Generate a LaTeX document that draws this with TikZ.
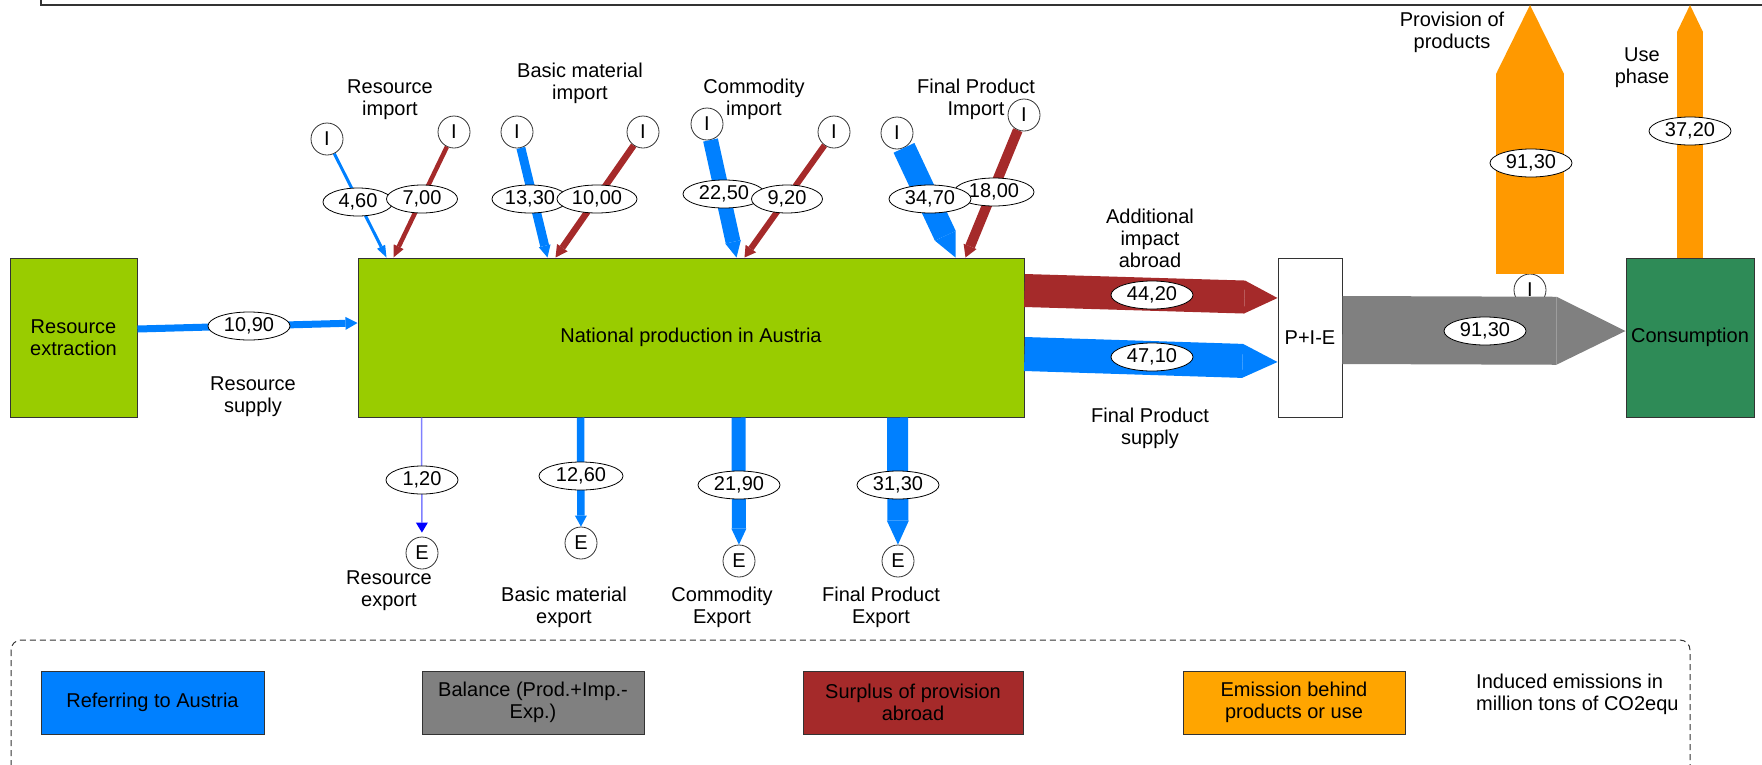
\documentclass[tikz,border=0pt]{standalone}
\usepackage{fontspec}
\setmainfont{Liberation Sans}
\usetikzlibrary{arrows.meta,shapes.geometric}
\definecolor{fgreen}{HTML}{99CC00}
\definecolor{fblue}{HTML}{0080FF}
\definecolor{fred}{HTML}{A52A2A}
\definecolor{fgray}{HTML}{808080}
\definecolor{forange}{HTML}{FF9900}
\definecolor{lorange}{HTML}{FFA500}
\definecolor{fsea}{HTML}{2E8B57}
\definecolor{fviolet}{HTML}{8080FF}
\definecolor{edge}{HTML}{333333}
\tikzset{
  box/.style={draw=edge, line width=1pt, inner sep=0pt, align=center},
  icirc/.style={circle, draw=edge, fill=white, line width=0.8pt, minimum size=32pt, inner sep=0pt},
  val/.style={ellipse, draw=black, fill=white, line width=0.8pt, minimum width=82pt, minimum height=28pt, inner sep=0pt},
  lbl/.style={align=center, inner sep=0pt},
  legbox/.style={box, minimum width=222pt, minimum height=63pt},
}
\begin{document}
\begin{tikzpicture}[x=1pt,y=-1pt,font=\fontsize{20}{22}\selectfont]
\useasboundingbox (0,0) rectangle (1762,764);
% top frame
\draw[edge, line width=1.2pt] (41,-2) -- (41,5) -- (1766,5);

% main boxes
\node[box, fill=fgreen, minimum width=127pt, minimum height=159pt] (rex) at (73.5,337.5) {Resource\\extraction};
\node[box, fill=fgreen, minimum width=666pt, minimum height=159pt] (nat) at (691,337.5) {National production in Austria};
\node[box, fill=white, minimum width=64pt, minimum height=159pt] (pie) at (1310,337.5) {P+I-E};
\node[box, fill=fsea, minimum width=128pt, minimum height=159pt] (con) at (1690,337.5) {Consumption};

% import circles
\node[icirc] (iA) at (327,139) {I};
\node[icirc] (iB) at (454,132) {I};
\node[icirc] (iC) at (517,132) {I};
\node[icirc] (iD) at (643,132) {I};
\node[icirc] (iE) at (707,124) {I};
\node[icirc] (iF) at (834,132) {I};
\node[icirc] (iG) at (897,133) {I};
\node[icirc] (iH) at (1024,115) {I};

% export circles
\node[icirc] (eA) at (422,553) {E};
\node[icirc] (eB) at (581,543) {E};
\node[icirc] (eC) at (739,561) {E};
\node[icirc] (eD) at (898,561) {E};

% import flows
\draw[fblue, line width=3pt, -{Triangle[width=9pt,length=12pt,line width=0pt]}] (iA) -- ([xshift=29pt]nat.north west);
\draw[fred, line width=4.5pt, -{Triangle[width=11pt,length=12pt,line width=0pt]}] (iB) -- ([xshift=36pt]nat.north west);
\draw[fblue, line width=9pt, -{Triangle[width=12pt,length=12pt,line width=0pt]}] (iC) -- ([xshift=190pt]nat.north west);
\draw[fred, line width=6.5pt, -{Triangle[width=13pt,length=12pt,line width=0pt]}] (iD) -- ([xshift=198pt]nat.north west);
\draw[fblue, line width=15pt, -{Triangle[width=16pt,length=16pt,line width=0pt]}] (iE) -- ([xshift=379pt]nat.north west);
\draw[fred, line width=6pt, -{Triangle[width=13pt,length=11pt,line width=0pt]}] (iF) -- ([xshift=387pt]nat.north west);
\draw[fblue, line width=23pt, -{Triangle[width=23pt,length=24pt,line width=0pt]}] (iG) -- ([xshift=598pt]nat.north west);
\draw[fred, line width=10pt, -{Triangle[width=14pt,length=12pt,line width=0pt]}] (iH) -- ([xshift=608pt]nat.north west);

% export flows
\draw[fviolet, line width=1.5pt, shorten >=4pt, -{Triangle[width=12pt,length=10pt,line width=0pt,color=blue,fill=blue]}] ([xshift=64pt]nat.south west) -- (eA);
\draw[fblue, line width=7.5pt, -{Triangle[width=12pt,length=11pt,line width=0pt]}] ([xshift=223pt]nat.south west) -- (eB);
\draw[fblue, line width=14pt, -{Triangle[width=15pt,length=16pt,line width=0pt]}] ([xshift=381pt]nat.south west) -- (eC);
\draw[fblue, line width=21pt, -{Triangle[width=22pt,length=24pt,line width=0pt]}] ([xshift=540pt]nat.south west) -- (eD);

% horizontal flows
\draw[fblue, line width=7pt, -{Triangle[width=13pt,length=12pt,line width=0pt]}] ([yshift=8.5pt]rex.east) -- ([yshift=14.5pt]nat.west);
\draw[fred, line width=33pt, -{Triangle[width=33pt,length=33pt,line width=0pt]}] ([yshift=47pt]nat.east) -- ([yshift=39.5pt]pie.west);
\draw[fblue, line width=34pt, -{Triangle[width=34pt,length=35pt,line width=0pt]}] ([yshift=-16.5pt]nat.east) -- ([yshift=-24.5pt]pie.west);

% provision / use phase
\node[icirc] (iP) at (1530,290) {I};
\coordinate (ptop) at (1530,5);
\coordinate (utop) at (1690,5);
\draw[forange, line width=68pt, -{Triangle[width=68pt,length=69pt,line width=0pt]}] (iP.north) -- (ptop);
\draw[forange, line width=26pt, -{Triangle[width=26pt,length=27pt,line width=0pt]}] (con.north) -- (utop);
\draw[fgray, line width=68pt, -{Triangle[width=68pt,length=69pt,line width=0pt]}] ([yshift=7.5pt]pie.east) -- ([yshift=6.5pt]con.west);

% value labels
\node[val] (v1090) at (249,326) {10,90};
\node[val, minimum width=70pt] (v460) at (358,202) {4,60};
\node[val, minimum width=71pt] (v700) at (422,199) {7,00};
\node[val, minimum width=76pt] (v1330) at (530,199) {13,30};
\node[val, minimum width=80pt] (v1000) at (597,199) {10,00};
\node[val] (v2250) at (724,194) {22,50};
\node[val, minimum width=71pt] (v920) at (787,199) {9,20};
\node[val, minimum width=80pt] (v1800) at (994,192) {18,00};
\node[val] (v3470) at (930,199) {34,70};
\node[val] (v4420) at (1152,295) {44,20};
\node[val] (v4710) at (1152,357) {47,10};
\node[val] (v9130g) at (1485,331) {91,30};
\node[val] (v9130o) at (1531,163) {91,30};
\node[val] (v3720) at (1690,131) {37,20};
\node[val, minimum width=72pt] (v120) at (422,480) {1,20};
\node[val, minimum width=84pt] (v1260) at (581,476) {12,60};
\node[val] (v2190) at (739,485) {21,90};
\node[val] (v3130) at (898,485) {31,30};

% text labels
\node[lbl] (tRI) at (390,99.5) {Resource\\import};
\node[lbl] (tBI) at (580,83.5) {Basic material\\import};
\node[lbl] (tCI) at (754,99.5) {Commodity\\import};
\node[lbl] (tFI) at (976,99.5) {Final Product\\Import};
\node[lbl] (tAI) at (1150,238) {Additional\\impact\\abroad};
\node[lbl] (tFS) at (1150,428.5) {Final Product\\supply};
\node[lbl] (tRS) at (253,397) {Resource\\supply};
\node[lbl] (tPP) at (1452,32) {Provision of\\products};
\node[lbl] (tUP) at (1642,67.5) {Use\\phase};
\node[lbl] (tRE) at (389,591) {Resource\\export};
\node[lbl] (tBE) at (564,607.5) {Basic material\\export};
\node[lbl] (tCE) at (722,607.5) {Commodity\\Export};
\node[lbl] (tFE) at (881,607.5) {Final Product\\Export};

% legend
\draw[edge, line width=1pt, dash pattern=on 6pt off 4pt, rounded corners=10pt] (11,640) rectangle (1690,775);
\node[legbox, fill=fblue, minimum width=223pt] (lg1) at (152.5,702.5) {Referring to Austria};
\node[legbox, fill=fgray] (lg2) at (533,702.5) {Balance (Prod.+Imp.-\\Exp.)};
\node[legbox, fill=fred, minimum width=220pt] (lg3) at (913,702.5) {Surplus of provision\\abroad};
\node[legbox, fill=lorange] (lg4) at (1294,702.5) {Emission behind\\products or use};
\node[lbl, align=left, anchor=west] (note) at (1476,694) {Induced emissions in\\million tons of CO2equ};
\end{tikzpicture}
\end{document}
